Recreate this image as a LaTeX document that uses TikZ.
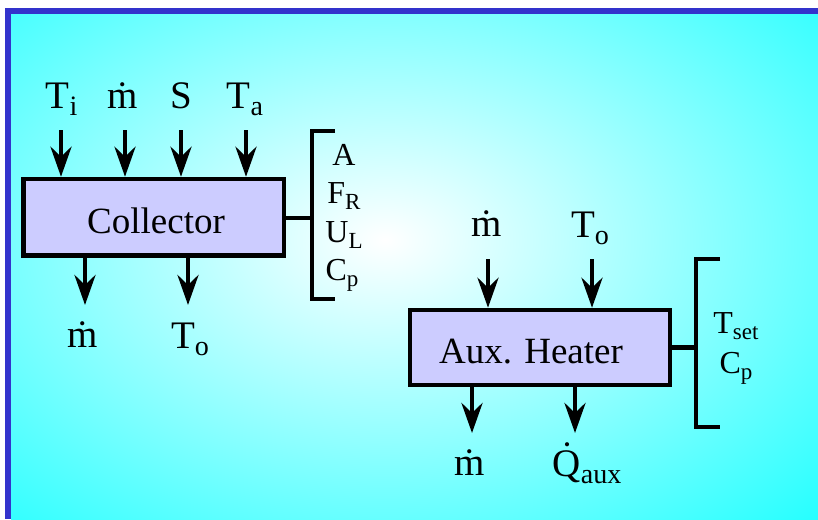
\documentclass[tikz,border=0pt]{standalone}
\usepackage{fontspec}
\setmainfont{Liberation Serif}
\usetikzlibrary{arrows.meta,calc}
\definecolor{bord}{RGB}{51,51,204}
\definecolor{bg}{RGB}{20,255,255}
\definecolor{boxfill}{RGB}{204,204,255}
\newcommand\sbs[1]{\raisebox{-0.2em}{\scalebox{0.72}{#1}}}
\begin{document}
\begin{tikzpicture}[x=1pt,y=-1pt,
  flow/.style={line width=4.5pt,-{Stealth[length=30pt,width=21pt,inset=10pt]}},
  blk/.style={draw=black,line width=4.5pt,fill=boxfill,inner sep=0pt},
  btxt/.style={font=\fontsize{37}{40}\selectfont,inner sep=0pt,anchor=base},
  lbl/.style={font=\fontsize{39}{42}\selectfont,inner sep=0pt,anchor=base},
  prm/.style={font=\fontsize{32}{36}\selectfont,inner sep=0pt,anchor=base},
  brk/.style={line width=4.5pt}]
\useasboundingbox (0,0) rectangle (818,519);
\fill[bg] (11,14) rectangle (818,519);
\begin{scope}
  \clip (11,14) rectangle (818,519);
  \shade[inner color=white,outer color=bg] (385,240) ellipse [x radius=660pt,y radius=430pt];
\end{scope}
\fill[bord] (5,8) rectangle (818,14);
\fill[bord] (5,8) rectangle (11,519);

% Collector
\node[blk,minimum width=260.5pt,minimum height=76.5pt] (col) at (153.75,217.25) {};
\node[btxt] (coltxt) at (156,233) {Collector};

\node[lbl] (ti) at (61.5,108) {T\sbs{i}};
\node[lbl] (m1) at (123,108) {\.{m}};
\node[lbl] (s1) at (181,108) {S};
\node[lbl] (ta) at (245,108) {T\sbs{a}};
\coordinate (ati) at (61,130);
\coordinate (am1) at (125,130);
\coordinate (as1) at (181,130);
\coordinate (ata) at (246,130);
\foreach \c in {ati,am1,as1,ata} \draw[flow] (\c) -- (\c |- col.north);

\node[lbl] (m2) at (83,347) {\.{m}};
\node[lbl] (to1) at (190,348) {T\sbs{o}};
\coordinate (bm2) at (85,305);
\coordinate (bto1) at (188,305);
\draw[flow] (bm2 |- col.south) -- (bm2);
\draw[flow] (bto1 |- col.south) -- (bto1);

\coordinate (br1t) at (312,131);
\coordinate (br1b) at (312,299);
\coordinate (br1m) at (312,218);
\draw[brk] ($(br1t)+(23,0)$) -- (br1t) -- (br1b) -- ($(br1b)+(23,0)$);
\draw[brk] (col.east |- br1m) -- (br1m);
\node[prm] (pa) at (344,165) {A};
\node[prm] (pf) at (344,203) {F\sbs{R}};
\node[prm] (pu) at (344,242) {U\sbs{L}};
\node[prm] (pc) at (342,280) {C\sbs{p}};

% Aux heater
\node[blk,minimum width=260pt,minimum height=75pt] (aux) at (540,347.5) {};
\node[btxt] (auxtxt) at (531,363) {Aux. Heater};

\node[lbl] (m3) at (487,236) {\.{m}};
\node[lbl] (to2) at (590,237) {T\sbs{o}};
\coordinate (am3) at (488,259);
\coordinate (ato2) at (592,259);
\draw[flow] (am3) -- (am3 |- aux.north);
\draw[flow] (ato2) -- (ato2 |- aux.north);

\node[lbl] (m4) at (470,475) {\.{m}};
\node[lbl] (qa) at (587,476) {\.{Q}\sbs{aux}};
\coordinate (bm4) at (472,433);
\coordinate (bqa) at (575,433);
\draw[flow] (bm4 |- aux.south) -- (bm4);
\draw[flow] (bqa |- aux.south) -- (bqa);

\coordinate (br2t) at (696,259);
\coordinate (br2b) at (696,427);
\coordinate (br2m) at (696,347.5);
\draw[brk] ($(br2t)+(24,0)$) -- (br2t) -- (br2b) -- ($(br2b)+(24,0)$);
\draw[brk] (aux.east) -- (br2m);
\node[prm] (ps) at (736,333) {T\sbs{set}};
\node[prm] (pc2) at (736,373) {C\sbs{p}};
\end{tikzpicture}
\end{document}
